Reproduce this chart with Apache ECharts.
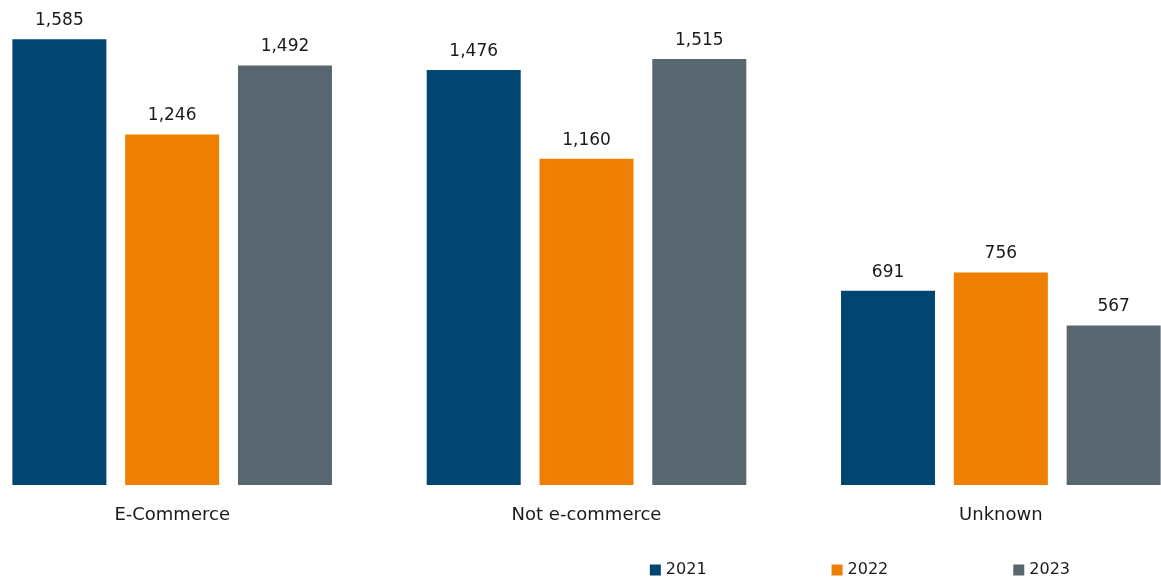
<!DOCTYPE html>
<html>
<head>
<meta charset="utf-8">
<script src="https://cdn.jsdelivr.net/npm/echarts@6/dist/echarts.min.js"></script>
<style>
  html, body { margin: 0; padding: 0; background: #fff; overflow: hidden; width: 1161px; height: 579px; }
  /* the plot bands run past both edges of the picture, so the canvas is wider and shifted left */
  #chart { position: absolute; left: -35px; top: 0; width: 1243px; height: 579px; }
</style>
</head>
<body>
<div id="chart"></div>
<script>
// categories + one array per year
var categories = ['E-Commerce', 'Not e-commerce', 'Unknown'];
var years = ['2021', '2022', '2023'];
var values2021 = [1585, 1476, 691];
var values2022 = [1246, 1160, 756];
var values2023 = [1492, 1515, 567];
var colors = ['#004670', '#ee7f00', '#58676f'];

var chart = echarts.init(document.getElementById('chart'));
var FONT = 'DejaVu Sans';

function makeSeries(name, data, i) {
  return {
    name: name,
    type: 'bar',
    data: data,
    barWidth: 94,
    barGap: '20%',
    itemStyle: { color: colors[i] },
    label: {
      show: true,
      position: 'top',
      distance: 10,
      color: '#1a1a1a',
      fontFamily: FONT,
      fontSize: 17,
      formatter: function (p) { return p.value.toLocaleString('en-US'); }
    }
  };
}

var option = {
  animation: false,
  backgroundColor: '#ffffff',
  color: colors,
  grid: { left: 0, right: 0, top: 35, bottom: 94, containLabel: false },
  legend: {
    data: years,
    right: 133,
    top: 557,
    itemWidth: 11,
    itemHeight: 11,
    itemGap: 125,
    icon: 'rect',
    textStyle: { fontFamily: FONT, fontSize: 16, color: '#1a1a1a' }
  },
  xAxis: {
    type: 'category',
    data: categories,
    axisLine: { show: false },
    axisTick: { show: false },
    axisLabel: { margin: 21, fontFamily: FONT, fontSize: 18, color: '#1a1a1a' }
  },
  yAxis: {
    type: 'value',
    min: 0,
    max: 1600,
    show: false,
    splitLine: { show: false }
  },
  series: [
    makeSeries(years[0], values2021, 0),
    makeSeries(years[1], values2022, 1),
    makeSeries(years[2], values2023, 2)
  ]
};

chart.setOption(option);
</script>
</body>
</html>
